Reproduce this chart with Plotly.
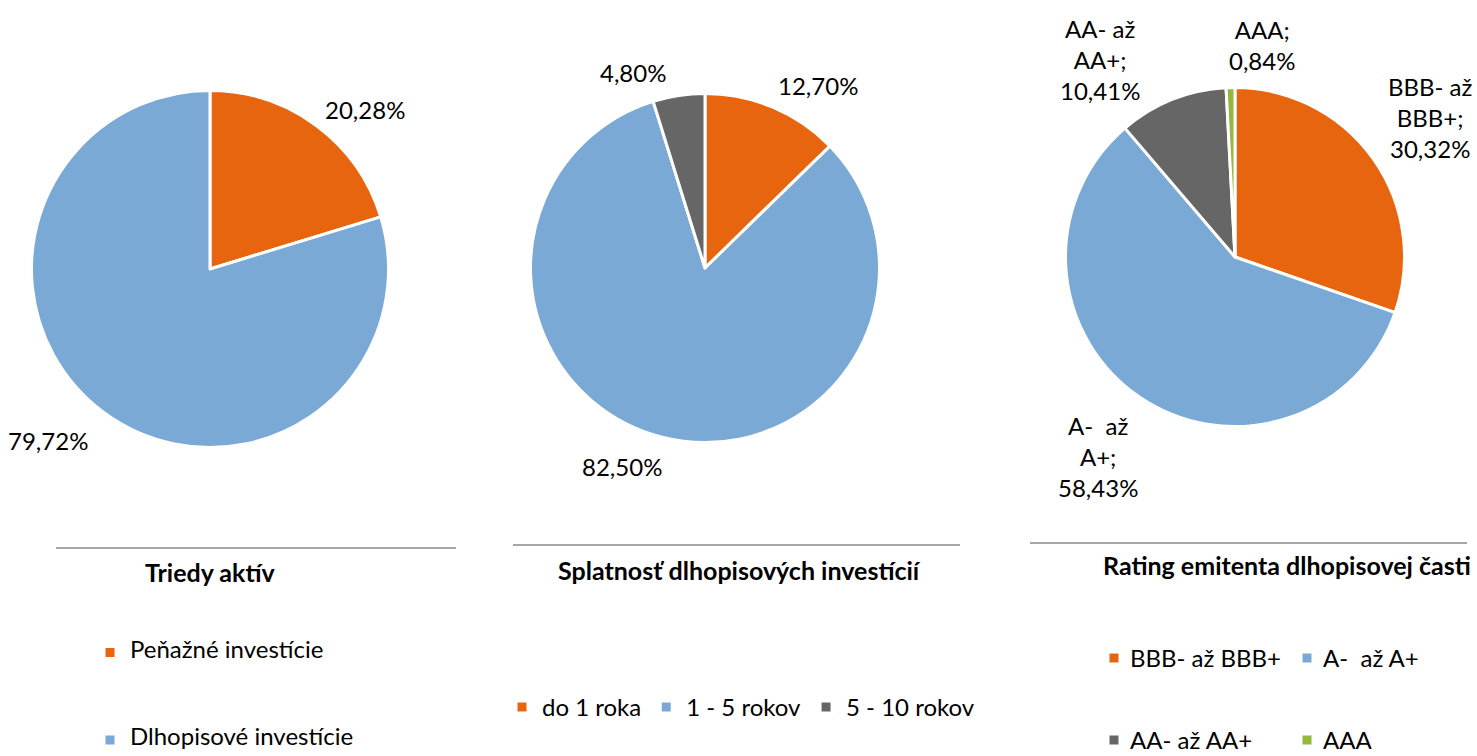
import plotly.graph_objects as go

W, H = 1477, 756

# ---- data ----
assets_labels = ["Peňažné investície", "Dlhopisové investície"]
assets_values = [20.28, 79.72]

maturity_labels = ["do 1 roka", "1 - 5 rokov", "5 - 10 rokov"]
maturity_values = [12.70, 82.50, 4.80]

rating_labels = ["BBB- až BBB+", "A-  až A+", "AA- až AA+", "AAA"]
rating_values = [30.32, 58.43, 10.41, 0.84]

titles = ["Triedy aktív", "Splatnosť dlhopisových investícií", "Rating emitenta dlhopisovej časti"]

# ---- style ----
ORANGE = "#E8650F"
BLUE = "#7BA9D6"
GRAY = "#666666"
GREEN = "#93B83C"
FONT = "Lato, 'Open Sans', sans-serif"
LBL = 24
TTL = 25


def pct(v):
    return f"{v:.2f}".replace(".", ",") + "%"


def px_dom(cx, cy, r):
    return dict(x=[(cx - r) / W, (cx + r) / W], y=[1 - (cy + r) / H, 1 - (cy - r) / H])


def spaced(labels):
    # blank lines above big text on a smaller legend line grid -> tall rows like the original
    return [f" <br> <br> <br> <br><span style='font-size:{LBL}px'>{l}</span>" for l in labels]


fig = go.Figure()

fig.add_trace(go.Pie(
    labels=spaced(assets_labels), values=assets_values, sort=False, direction="clockwise",
    rotation=0, textinfo="none", hoverinfo="percent",
    marker=dict(colors=[ORANGE, BLUE], line=dict(color="white", width=3)),
    domain=px_dom(210, 269, 178.5), legend="legend",
))
fig.add_trace(go.Pie(
    labels=maturity_labels, values=maturity_values, sort=False, direction="clockwise",
    rotation=0, textinfo="none", hoverinfo="percent",
    marker=dict(colors=[ORANGE, BLUE, GRAY], line=dict(color="white", width=3)),
    domain=px_dom(705, 268, 174.5), legend="legend2",
))
rating_colors = [ORANGE, BLUE, GRAY, GREEN]
fig.add_trace(go.Pie(
    labels=rating_labels, values=rating_values, sort=False, direction="clockwise",
    rotation=0, textinfo="none", hoverinfo="label+percent", showlegend=False,
    marker=dict(colors=rating_colors, line=dict(color="white", width=3)),
    domain=px_dom(1235, 257, 169.5),
))

# ---- data labels (text placed like the original) ----
label_pos_1 = [(365, 110), (48, 440)]
label_pos_2 = [(818, 85), (622, 467), (633, 73)]
label_pos_3 = [(1430, 117), (1098, 456), (1100, 60), (1262, 45)]

annotations = []
for v, (x, y) in zip(assets_values, label_pos_1):
    annotations.append(dict(x=x / W, y=1 - y / H, text=pct(v)))
for v, (x, y) in zip(maturity_values, label_pos_2):
    annotations.append(dict(x=x / W, y=1 - y / H, text=pct(v)))
for lab, v, (x, y) in zip(rating_labels, rating_values, label_pos_3):
    parts = lab.rsplit(" ", 1)
    if len(parts) == 2:
        txt = parts[0] + "<br>" + parts[1] + ";<br>" + pct(v)
    else:
        txt = parts[0] + ";<br>" + pct(v)
    annotations.append(dict(x=x / W, y=1 - y / H, text=txt))
for a in annotations:
    a.update(xref="paper", yref="paper", showarrow=False, xanchor="center", yanchor="middle",
             font=dict(size=LBL, color="#000000", family=FONT), align="center")

# ---- titles ----
title_pos = [(210, 572), (739, 570), (1287, 565)]
for t, (x, y) in zip(titles, title_pos):
    annotations.append(dict(x=x / W, y=1 - y / H, xref="paper", yref="paper", text="<b>" + t + "</b>",
                            showarrow=False, xanchor="center", yanchor="middle",
                            font=dict(size=TTL, color="#000000", family=FONT)))

# ---- rules above titles ----
rules = [(56, 456, 548), (513, 960, 545), (1030, 1467, 543)]
shapes = [dict(type="line", xref="paper", yref="paper", x0=a / W, x1=b / W, y0=1 - y / H, y1=1 - y / H,
               line=dict(color="#A6A6A6", width=2)) for a, b, y in rules]

# ---- 2x2 legend of the rating pie ----
leg3_marker = [(1114, 658), (1307, 658), (1114, 740), (1307, 740)]
MS = 4.5
for (x, y), c, lab in zip(leg3_marker, rating_colors, rating_labels):
    shapes.append(dict(type="rect", xref="paper", yref="paper", x0=(x - MS) / W, x1=(x + MS) / W,
                       y0=1 - (y + MS) / H, y1=1 - (y - MS) / H, fillcolor=c, line=dict(width=0)))
    annotations.append(dict(x=(x + 14) / W, y=1 - (y - 1) / H, xref="paper", yref="paper", text=lab,
                            showarrow=False, xanchor="left", yanchor="middle",
                            font=dict(size=LBL, color="#000000", family=FONT)))

fig.update_layout(
    width=W, height=H,
    margin=dict(l=0, r=0, t=0, b=0),
    paper_bgcolor="white", plot_bgcolor="white",
    font=dict(family=FONT),
    annotations=annotations, shapes=shapes,
    showlegend=True,
    legend=dict(orientation="v", x=90 / W, xanchor="left", y=0, yanchor="bottom",
                valign="bottom", font=dict(size=13, color="#000000", family=FONT), bgcolor="rgba(0,0,0,0)"),
    legend2=dict(orientation="h", x=502 / W, xanchor="left", y=1 - 685 / H, yanchor="top",
                 font=dict(size=LBL, color="#000000", family=FONT), bgcolor="rgba(0,0,0,0)"),
)

fig.write_html("out.html", config={"displayModeBar": False},
               post_script="document.body.style.margin='0';document.body.style.padding='0';")
